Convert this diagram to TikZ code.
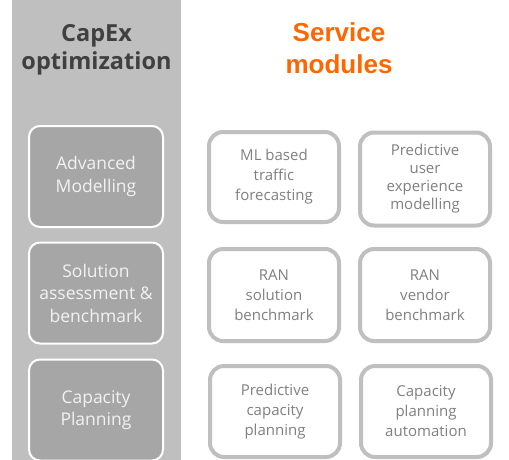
\documentclass[tikz,border=0pt]{standalone}
\usepackage{fontspec}
\setmainfont{Open Sans}
\newfontfamily\arialbold[BoldFont={Liberation Sans Bold}]{Liberation Sans}
\definecolor{bandgray}{HTML}{BFBFBF}
\definecolor{boxgray}{HTML}{A6A6A6}
\definecolor{titlegray}{HTML}{404040}
\definecolor{modtext}{HTML}{808080}
\definecolor{svcorange}{HTML}{FF6600}
\begin{document}
\begin{tikzpicture}[x=1pt,y=-1pt,
  leftbox/.style={draw=white,line width=2pt,fill=boxgray,rounded corners=11pt,
    text=white!95!black,align=center,font=\fontsize{17.5}{22.5}\selectfont,
    minimum width=134pt,minimum height=101pt,inner sep=0pt},
  modbox/.style={draw=bandgray,line width=4pt,fill=white,rounded corners=14pt,
    text=modtext,align=center,font=\fontsize{15}{20}\selectfont,
    minimum width=130pt,inner sep=0pt}]
\useasboundingbox (0,0) rectangle (509,460);
\fill[white] (0,0) rectangle (509,460);
\fill[bandgray] (12,0) rectangle (181,460);
\node[text=titlegray,font=\bfseries\fontsize{23.5}{28}\selectfont,align=center] (t1) at (96.5,50) {CapEx\\optimization};
\node[text=svcorange,font=\arialbold\bfseries\fontsize{26}{32}\selectfont,align=center] (t2) at (339,48) {Service\\modules};
\node[leftbox] (l1) at (96,176.5) {Advanced\\Modelling};
\node[leftbox] (l2) at (96,293) {Solution\\assessment \&\\benchmark};
\node[leftbox] (l3) at (96,410) {Capacity\\Planning};
\node[modbox,minimum height=90pt] (m1) at (274,177) {ML based\\traffic\\forecasting};
\node[modbox,minimum height=93pt,font=\fontsize{15}{18}\selectfont] (m2) at (425,179) {Predictive\\user\\experience\\modelling};
\node[modbox,minimum height=92pt] (m3) at (274,295) {RAN\\solution\\benchmark};
\node[modbox,minimum height=92pt] (m4) at (425,295) {RAN\\vendor\\benchmark};
\node[modbox,minimum height=91pt] (m5) at (275,411.5) {Predictive\\capacity\\planning};
\node[modbox,minimum height=91pt] (m6) at (426,411.5) {Capacity\\planning\\automation};
\end{tikzpicture}
\end{document}
